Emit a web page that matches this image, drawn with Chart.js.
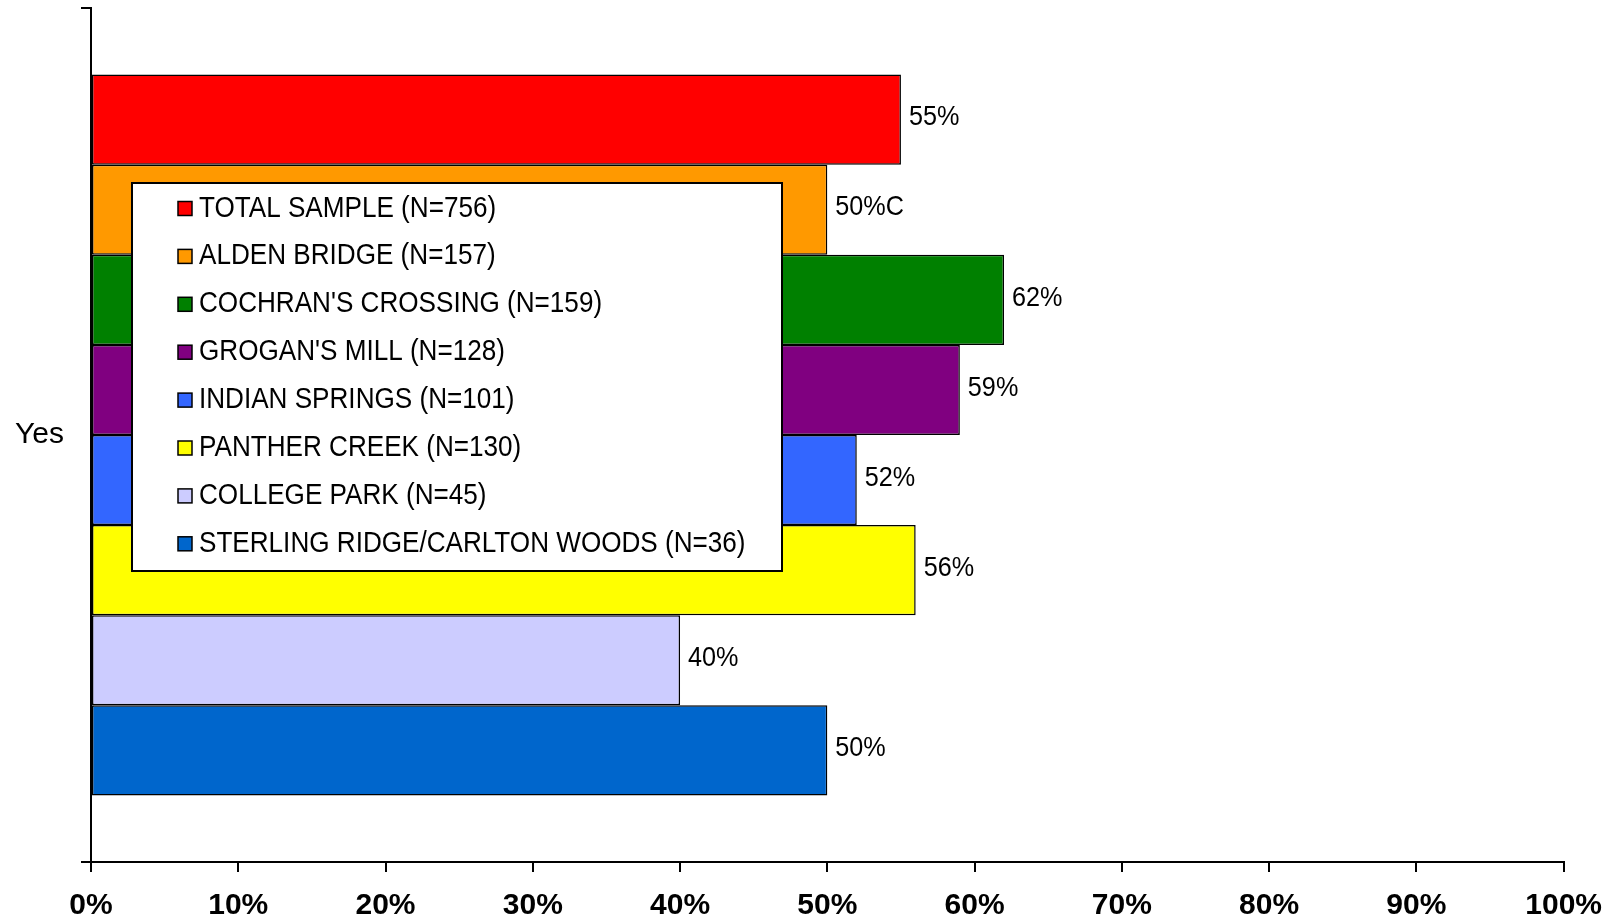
<!DOCTYPE html>
<html>
<head>
<meta charset="utf-8">
<script src="https://cdn.jsdelivr.net/npm/chart.js@4/dist/chart.umd.min.js"></script>
<style>
  html, body { margin: 0; padding: 0; background: #fff; }
  #wrap { width: 1618px; height: 918px; position: relative; }
</style>
</head>
<body>
<div id="wrap"><canvas id="chart"></canvas></div>
<script>
// data
const categories = ['Yes'];
const seriesNames = [
    'TOTAL SAMPLE (N=756)',
    'ALDEN BRIDGE (N=157)',
    "COCHRAN'S CROSSING (N=159)",
    "GROGAN'S MILL (N=128)",
    'INDIAN SPRINGS (N=101)',
    'PANTHER CREEK (N=130)',
    'COLLEGE PARK (N=45)',
    'STERLING RIDGE/CARLTON WOODS (N=36)'
];
const seriesValues = [55, 50, 62, 59, 52, 56, 40, 50];
const valueNotes = ['', 'C', '', '', '', '', '', ''];
const seriesColors = ['#FF0000', '#FF9900', '#008000', '#800080', '#3366FF', '#FFFF00', '#CCCCFF', '#0066CC'];
const tickSuffix = '%';

const textFont = "'Liberation Sans', Arial, sans-serif";

/*
 * value labels at the end of each bar
 */
const valueLabels = {
    id: 'valueLabels',
    afterDatasetsDraw(chart) {
        const ctx = chart.ctx;
        ctx.save();
        ctx.font = '28px ' + textFont;
        ctx.fillStyle = '#000';
        ctx.textBaseline = 'middle';
        ctx.textAlign = 'left';
        chart.data.datasets.forEach((ds, i) => {
            chart.getDatasetMeta(i).data.forEach((bar) => {
                ctx.save();
                ctx.translate(bar.x + 8, bar.y - 2);
                ctx.scale(0.9, 1);
                ctx.fillText(seriesValues[i] + '%' + valueNotes[i], 0, 0);
                ctx.restore();
            });
        });
        ctx.restore();
    }
};

/*
 * boxed legend sitting on top of the bars
 */
const boxLegend = {
    id: 'boxLegend',
    afterDraw(chart) {
        const ctx = chart.ctx;
        const box = { x: 132, y: 183, w: 650, h: 388 };
        ctx.save();
        ctx.fillStyle = '#fff';
        ctx.fillRect(box.x, box.y, box.w, box.h);
        ctx.strokeStyle = '#000';
        ctx.lineWidth = 2;
        ctx.strokeRect(box.x, box.y, box.w, box.h);

        ctx.font = '29px ' + textFont;
        ctx.textBaseline = 'middle';
        ctx.textAlign = 'left';
        chart.data.datasets.forEach((ds, i) => {
            const y = 208.5 + i * 47.9;
            ctx.fillStyle = ds.backgroundColor;
            ctx.fillRect(178, y - 7, 14, 14);
            ctx.lineWidth = 1.5;
            ctx.strokeStyle = '#000';
            ctx.strokeRect(178, y - 7, 14, 14);
            ctx.fillStyle = '#000';
            ctx.save();
            ctx.translate(199, y);
            ctx.scale(0.9, 1);
            ctx.fillText(ds.label, 0, 0);
            ctx.restore();
        });
        ctx.restore();
    }
};

const ctx = document.getElementById('chart').getContext('2d');

const chart = new Chart(ctx, {
    type: 'bar',
    data: {
        labels: categories,
        datasets: seriesNames.map((name, i) => ({
            label: name,
            data: [seriesValues[i]],
            backgroundColor: seriesColors[i],
            borderColor: '#000',
            borderWidth: 1.5,
            borderSkipped: false,
            barPercentage: 1.0,
            categoryPercentage: 0.844
        }))
    },
    options: {
        indexAxis: 'y',
        responsive: true,
        maintainAspectRatio: false,
        animation: false,
        layout: {
            padding: { top: 8, right: 53, bottom: 0, left: 0 }
        },
        plugins: {
            legend: { display: false },
            tooltip: { enabled: false }
        },
        scales: {
            x: {
                min: 0,
                max: 100,
                ticks: {
                    stepSize: 10,
                    color: '#000',
                    padding: 16,
                    font: { family: "'Liberation Sans Narrow', 'Arial Narrow', sans-serif", size: 30, weight: 'bold' },
                    callback: (v) => v + tickSuffix
                },
                grid: {
                    drawOnChartArea: false,
                    tickLength: 10,
                    color: '#000',
                    lineWidth: 2
                },
                border: { color: '#000', width: 2 },
                afterFit: (s) => { s.height = 56; }
            },
            y: {
                ticks: {
                    color: '#000',
                    padding: 17,
                    font: { family: textFont, size: 30 }
                },
                grid: {
                    drawOnChartArea: false,
                    tickLength: 10,
                    color: '#000',
                    lineWidth: 2,
                    offset: true
                },
                border: { color: '#000', width: 2 },
                afterFit: (s) => {
                    s.width = 91;
                    s.paddingTop = 0;
                    s.paddingBottom = 0;
                }
            }
        }
    },
    plugins: [valueLabels, boxLegend]
});
</script>
</body>
</html>
